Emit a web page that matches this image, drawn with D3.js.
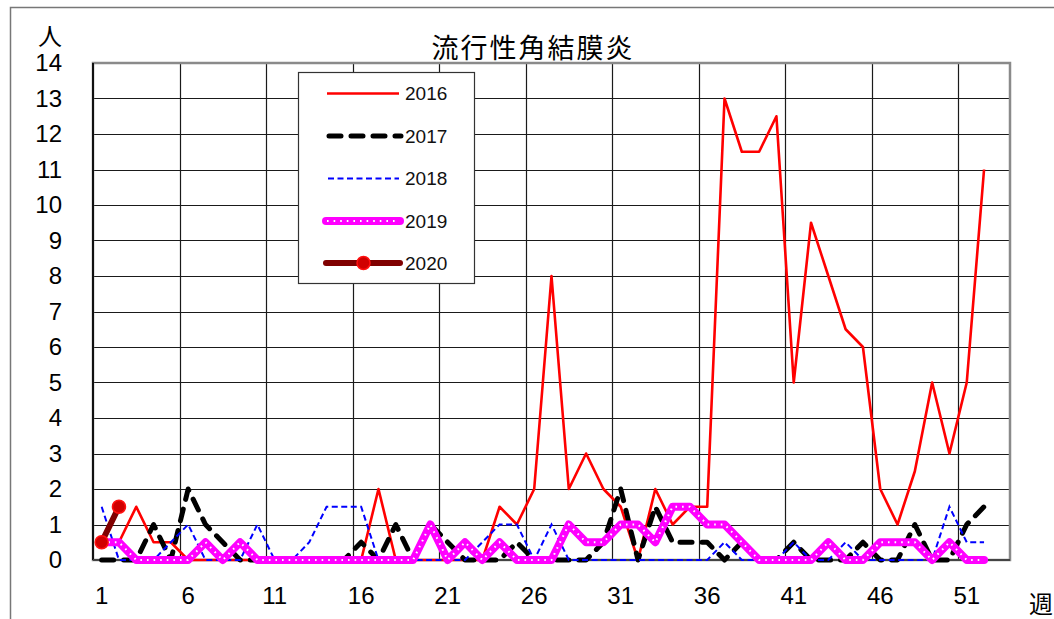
<!DOCTYPE html>
<html>
<head>
<meta charset="utf-8">
<script src="https://cdn.jsdelivr.net/npm/d3@7"></script>
<style>
html,body{margin:0;padding:0;background:#fff;}
svg{display:block;}
</style>
</head>
<body>
<svg id="chart" width="1054" height="619"></svg>
<script>
const weeks = d3.range(1, 54);
const xTickWeeks = [1, 6, 11, 16, 21, 26, 31, 36, 41, 46, 51];
const yTicks = d3.range(0, 15);
const seriesNames = ["2016", "2017", "2018", "2019", "2020"];

const v2016 = [0.5,0.5,1.5,0.5,0.5,0,0,0,0,0, 0,0,0,0,0,0,2,0,0,0, 0,0,0,1.5,1,2,8,2,3,2, 1.5,0,2,1,1.5,1.5,13,11.5,11.5,12.5, 5,9.5,8,6.5,6,2,1,2.5,5,3, 5,11];
const v2017 = [0,0,0,1,0,2,1,0.5,0,0, 0,0,0,0,0,0.5,0,1,0,1, 0.5,0,0,0,0.5,0,0,0,0,0.5, 2,0,1.5,0.5,0.5,0.5,0,0.5,0,0, 0.5,0,0,0,0.5,0,0,1,0,0, 1,1.5];
const v2018 = [1.5,0,0,0,0.5,1,0,0,0,1, 0,0,0.5,1.5,1.5,1.5,0,0,0,0, 0,0,0.5,1,1,0,1,0,0,0, 0,0,0,0,0,0,0.5,0,0,0, 0.5,0,0,0.5,0,0,0,0,0,1.5, 0.5,0.5];
const v2019 = [0.5,0.5,0,0,0,0,0.5,0,0.5,0, 0,0,0,0,0,0,0,0,0,1, 0,0.5,0,0.5,0,0,0,1,0.5,0.5, 1,1,0.5,1.5,1.5,1,1,0.5,0,0, 0,0,0.5,0,0,0.5,0.5,0.5,0,0.5, 0,0];
const v2020 = [0.5,1.5];

const svg = d3.select("#chart");
const L = 93, R = 1010, T = 63, B = 560;

const x = d3.scaleBand().domain(weeks).range([L, R]).padding(0);
const y = d3.scaleLinear().domain([0, 14]).range([B, T]);
const cx = w => x(w) + x.bandwidth() / 2;

// outer frame
svg.append("rect").attr("x", 10.5).attr("y", 7.5).attr("width", 1100).attr("height", 700)
  .attr("fill", "#fff").attr("stroke", "#777").attr("stroke-width", 1.5);

// plot background
svg.append("rect").attr("x", L).attr("y", T).attr("width", R - L).attr("height", B - T).attr("fill", "#fff");

// horizontal gridlines
svg.append("g").selectAll("line").data(yTicks.filter(d => d > 0 && d < 14)).join("line")
  .attr("x1", L).attr("x2", R)
  .attr("y1", d => Math.round(y(d)) + 0.5).attr("y2", d => Math.round(y(d)) + 0.5)
  .attr("stroke", "#1a1a1a").attr("stroke-width", 1.2);

// vertical gridlines
svg.append("g").selectAll("line").data(xTickWeeks.filter(w => w > 1)).join("line")
  .attr("x1", d => Math.round(x(d)) + 0.5).attr("x2", d => Math.round(x(d)) + 0.5)
  .attr("y1", T).attr("y2", B)
  .attr("stroke", "#1a1a1a").attr("stroke-width", 1.2);

// plot border
svg.append("rect").attr("x", L).attr("y", T).attr("width", R - L).attr("height", B - T)
  .attr("fill", "none").attr("stroke", "#8a8a8a").attr("stroke-width", 2.5);
svg.append("line").attr("x1", L).attr("x2", L).attr("y1", T).attr("y2", B)
  .attr("stroke", "#111").attr("stroke-width", 2);
svg.append("line").attr("x1", L).attr("x2", R).attr("y1", B).attr("y2", B)
  .attr("stroke", "#444").attr("stroke-width", 2);

// axes
const axisFont = "'Liberation Sans', Arial, sans-serif";
const yAxis = svg.append("g").attr("transform", `translate(${L},0)`)
  .call(d3.axisLeft(y).tickValues(yTicks).tickSize(0).tickPadding(31).tickFormat(d3.format("d")));
yAxis.select(".domain").remove();
yAxis.selectAll("text").attr("font-size", 24).attr("font-family", axisFont).attr("fill", "#000");

const xAxis = svg.append("g").attr("transform", `translate(0,${B})`)
  .call(d3.axisBottom(x).tickValues(xTickWeeks).tickSize(0).tickPadding(27));
xAxis.select(".domain").remove();
xAxis.selectAll("text").attr("font-size", 24).attr("font-family", axisFont).attr("fill", "#000");

// labels
const cjk = "'Noto Sans CJK JP', 'Noto Sans CJK SC', sans-serif";
svg.append("text").attr("x", 50).attr("y", 45).attr("text-anchor", "middle")
  .attr("font-size", 24).attr("font-family", cjk).text("人");
svg.append("text").attr("x", 1041).attr("y", 613).attr("text-anchor", "middle")
  .attr("font-size", 24).attr("font-family", cjk).text("週");
svg.append("text").attr("x", 533).attr("y", 58).attr("text-anchor", "middle")
  .attr("font-size", 27).attr("font-family", cjk).attr("letter-spacing", 2).text("流行性角結膜炎");

// series
const line = d3.line().x((d, i) => cx(i + 1)).y(d => y(d));
const g = svg.append("g");

g.append("path").datum(v2016).attr("d", line).attr("fill", "none")
  .attr("stroke", "#ff0000").attr("stroke-width", 2.6).attr("stroke-linejoin", "round");
g.append("path").datum(v2017).attr("d", line).attr("fill", "none")
  .attr("stroke", "#000").attr("stroke-width", 5).attr("stroke-dasharray", "12,10")
  .attr("stroke-linecap", "round").attr("stroke-linejoin", "round");
g.append("path").datum(v2018).attr("d", line).attr("fill", "none")
  .attr("stroke", "#0000ff").attr("stroke-width", 2).attr("stroke-dasharray", "6,3.5");
g.append("path").datum(v2019).attr("d", line).attr("fill", "none")
  .attr("stroke", "#ff00ff").attr("stroke-width", 8).attr("stroke-linejoin", "round").attr("stroke-linecap", "round");
g.append("path").datum(v2019).attr("d", line).attr("fill", "none")
  .attr("stroke", "#fff").attr("stroke-width", 2).attr("stroke-dasharray", "1.6,5");
g.append("path").datum(v2020).attr("d", line).attr("fill", "none")
  .attr("stroke", "#800000").attr("stroke-width", 6).attr("stroke-linecap", "round");
g.selectAll("circle.m2020").data(v2020).join("circle").attr("class", "m2020")
  .attr("cx", (d, i) => cx(i + 1)).attr("cy", d => y(d)).attr("r", 6.5)
  .attr("fill", "#d00000").attr("stroke", "#ff1010").attr("stroke-width", 1.5);

// legend
const lg = svg.append("g");
lg.append("rect").attr("x", 298.5).attr("y", 72.5).attr("width", 176).attr("height", 211)
  .attr("fill", "#fff").attr("stroke", "#333").attr("stroke-width", 1.2);
const rowsY = [93.5, 136, 178.5, 221, 263];
const x1 = 327, x2 = 399;
// 2016
lg.append("line").attr("x1", x1).attr("x2", x2).attr("y1", rowsY[0]).attr("y2", rowsY[0])
  .attr("stroke", "#ff0000").attr("stroke-width", 2.6);
// 2017
lg.append("line").attr("x1", x1 + 2).attr("x2", x2 + 2).attr("y1", rowsY[1]).attr("y2", rowsY[1])
  .attr("stroke", "#000").attr("stroke-width", 5).attr("stroke-dasharray", "12,10").attr("stroke-linecap", "round");
// 2018
lg.append("line").attr("x1", x1 + 1).attr("x2", x2).attr("y1", rowsY[2]).attr("y2", rowsY[2])
  .attr("stroke", "#0000ff").attr("stroke-width", 2).attr("stroke-dasharray", "6,3.5");
// 2019
lg.append("line").attr("x1", x1 - 1).attr("x2", x2 + 1).attr("y1", rowsY[3]).attr("y2", rowsY[3])
  .attr("stroke", "#ff00ff").attr("stroke-width", 8).attr("stroke-linecap", "round");
lg.append("line").attr("x1", x1).attr("x2", x2).attr("y1", rowsY[3]).attr("y2", rowsY[3])
  .attr("stroke", "#fff").attr("stroke-width", 2).attr("stroke-dasharray", "1.6,5");
// 2020
lg.append("line").attr("x1", x1 - 1).attr("x2", x2 + 1).attr("y1", rowsY[4]).attr("y2", rowsY[4])
  .attr("stroke", "#800000").attr("stroke-width", 6).attr("stroke-linecap", "round");
lg.append("circle").attr("cx", (x1 + x2) / 2 + 0.5).attr("cy", rowsY[4]).attr("r", 6.5)
  .attr("fill", "#d00000").attr("stroke", "#ff1010").attr("stroke-width", 1.5);
lg.selectAll("text").data(seriesNames).join("text")
  .attr("x", 405).attr("y", (d, i) => rowsY[i]).attr("dy", "0.36em")
  .attr("font-size", 19).attr("font-family", axisFont).attr("fill", "#111").text(d => d);
</script>
</body>
</html>
